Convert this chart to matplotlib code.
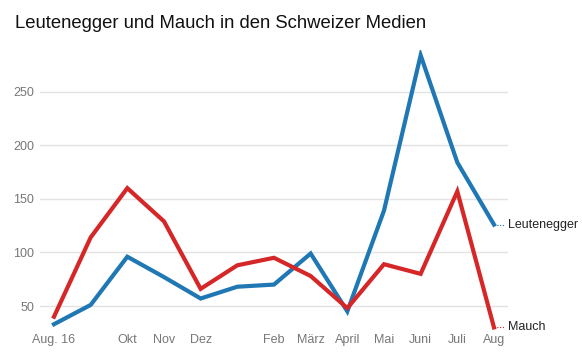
import numpy as np
import matplotlib.pyplot as plt

plt.rcParams['font.family'] = ['Liberation Sans', 'DejaVu Sans']

# months Aug 2016 .. Aug 2017
months = ['Aug. 16', '', 'Okt', 'Nov', 'Dez', '', 'Feb', 'März', 'April',
          'Mai', 'Juni', 'Juli', 'Aug']
leutenegger = [33, 51, 96, 77, 57, 68, 70, 99, 45, 139, 284, 184, 126]
mauch = [40, 114, 160, 129, 66, 88, 95, 78, 48, 89, 80, 157, 30]
yticks = [50, 100, 150, 200, 250]

blue = '#1f77b4'
red = '#d62728'

fig = plt.figure(figsize=(5.82, 3.55), dpi=100)
ax = fig.add_axes([0.0687, 0.0704, 0.804, 0.789])

x = np.arange(len(months))
ax.plot(x, leutenegger, color=blue, lw=3, solid_joinstyle='miter', zorder=3)
ax.plot(x, mauch, color=red, lw=3, solid_joinstyle='miter', zorder=3)

ax.set_xlim(-0.382, 12.38)
ax.set_ylim(27.6, 289)
ax.set_yticks(yticks)
ax.set_xticks(x)
ax.set_xticklabels(months)
ax.tick_params(length=0, labelsize=9, colors='#777777')
ax.tick_params(axis='y', pad=4)
ax.tick_params(axis='x', pad=3)
ax.grid(axis='y', color='#e3e3e3', lw=1)
ax.set_axisbelow(True)
for s in ax.spines.values():
    s.set_visible(False)

# end labels with dotted connectors
for vals, name, c in [(leutenegger, 'Leutenegger', blue), (mauch, 'Mauch', red)]:
    ax.plot([x[-1], x[-1] + 0.3], [vals[-1], vals[-1]], color=c, lw=0.8,
            ls=(0, (1, 1.5)), clip_on=False)
    ax.text(x[-1] + 0.38, vals[-1], name, fontsize=9, color='#222222',
            va='center', ha='left', clip_on=False)

fig.text(0.026, 0.935, 'Leutenegger und Mauch in den Schweizer Medien',
         fontsize=13.3, color='#111111', va='center', ha='left')

fig.savefig('out.png', dpi=100)
